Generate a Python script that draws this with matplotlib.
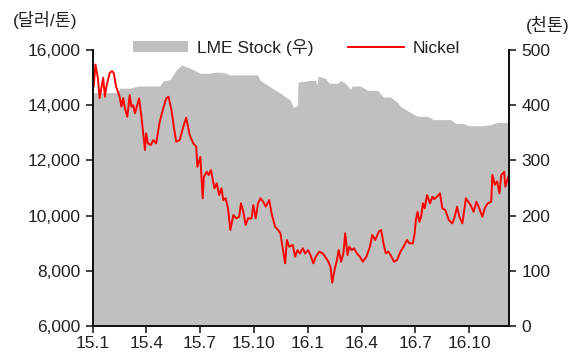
import matplotlib
matplotlib.use("Agg")
import matplotlib.pyplot as plt
import pandas as pd
from matplotlib.patches import Patch
from matplotlib.lines import Line2D

plt.rcParams['font.family'] = ['Liberation Sans', 'Noto Sans CJK KR', 'DejaVu Sans']

nickel_dates = [
    "2015-01-02", "2015-01-05", "2015-01-09", "2015-01-12", "2015-01-18", "2015-01-21", "2015-01-23",
    "2015-01-29", "2015-02-02", "2015-02-05", "2015-02-09", "2015-02-15", "2015-02-18", "2015-02-21",
    "2015-02-24", "2015-02-28", "2015-03-04", "2015-03-07", "2015-03-10", "2015-03-13", "2015-03-20",
    "2015-03-24", "2015-03-27", "2015-03-30", "2015-04-01", "2015-04-04", "2015-04-09", "2015-04-13",
    "2015-04-18", "2015-04-24", "2015-04-30", "2015-05-05", "2015-05-09", "2015-05-14", "2015-05-18",
    "2015-05-22", "2015-05-28", "2015-06-03", "2015-06-08", "2015-06-14", "2015-06-20", "2015-06-25",
    "2015-06-27", "2015-07-02", "2015-07-06", "2015-07-08", "2015-07-13", "2015-07-16", "2015-07-20",
    "2015-07-26", "2015-07-30", "2015-08-03", "2015-08-07", "2015-08-10", "2015-08-14", "2015-08-18",
    "2015-08-22", "2015-08-27", "2015-09-01", "2015-09-06", "2015-09-09", "2015-09-13", "2015-09-17",
    "2015-09-21", "2015-09-27", "2015-09-30", "2015-10-04", "2015-10-08", "2015-10-12", "2015-10-17",
    "2015-10-21", "2015-10-27", "2015-10-31", "2015-11-06", "2015-11-11", "2015-11-15", "2015-11-19",
    "2015-11-23", "2015-11-26", "2015-11-30", "2015-12-06", "2015-12-10", "2015-12-14", "2015-12-18",
    "2015-12-23", "2015-12-27", "2016-01-01", "2016-01-05", "2016-01-10", "2016-01-14", "2016-01-20",
    "2016-01-26", "2016-01-30", "2016-02-03", "2016-02-08", "2016-02-11", "2016-02-15", "2016-02-19",
    "2016-02-22", "2016-02-26", "2016-03-01", "2016-03-04", "2016-03-08", "2016-03-11", "2016-03-15",
    "2016-03-19", "2016-03-24", "2016-03-29", "2016-04-03", "2016-04-09", "2016-04-15", "2016-04-19",
    "2016-04-24", "2016-04-30", "2016-05-04", "2016-05-08", "2016-05-12", "2016-05-16", "2016-05-20",
    "2016-05-26", "2016-05-31", "2016-06-06", "2016-06-11", "2016-06-17", "2016-06-21", "2016-06-27",
    "2016-06-30", "2016-07-02", "2016-07-05", "2016-07-08", "2016-07-11", "2016-07-14", "2016-07-17",
    "2016-07-21", "2016-07-26", "2016-07-30", "2016-08-02", "2016-08-07", "2016-08-12", "2016-08-16",
    "2016-08-21", "2016-08-27", "2016-09-02", "2016-09-06", "2016-09-10", "2016-09-14", "2016-09-19",
    "2016-09-25", "2016-09-29", "2016-10-03", "2016-10-08", "2016-10-13", "2016-10-17", "2016-10-23",
    "2016-10-27", "2016-11-01", "2016-11-07", "2016-11-09", "2016-11-13", "2016-11-17", "2016-11-21",
    "2016-11-24", "2016-11-29", "2016-12-01", "2016-12-06",
]
nickel_price = [
    14700, 15480, 14990, 14260, 15000, 14310, 14620,
    15170, 15240, 15170, 14670, 14310, 13950, 14260,
    13890, 13585, 14370, 13950, 14000, 13710, 14250,
    13590, 12980, 12380, 12980, 12620, 12560, 12740,
    12620, 13400, 13890, 14250, 14310, 13830, 13220,
    12680, 12740, 13220, 13550, 12920, 12620, 12500,
    11770, 12130, 10630, 11410, 11590, 11470, 11650,
    10990, 11170, 10750, 10990, 10565, 10630, 10265,
    9480, 10020, 9900, 9960, 10446, 10140, 9660,
    9900, 9900, 10384, 9900, 10446, 10627, 10500,
    10325, 10565, 10084, 9600, 9479, 9360, 8816,
    8272, 9116, 8875, 8935, 8512, 8750, 8630,
    8816, 8630, 8750, 8570, 8272, 8510, 8693,
    8630, 8510, 8390, 8150, 7570, 8030, 8390,
    8753, 8330, 8630, 9360, 8573, 8875, 8750,
    8816, 8630, 8510, 8330, 8510, 8875, 9300,
    9116, 9418, 9480, 9000, 8633, 8700, 8573,
    8330, 8390, 8700, 8870, 9116, 8996, 8996,
    9360, 9840, 10140, 9780, 9960, 10446, 10265,
    10746, 10446, 10686, 10600, 10686, 10808, 10265,
    10205, 9840, 9720, 9960, 10325, 9960, 9720,
    10627, 10505, 10384, 10140, 10505, 10300, 9960,
    10265, 10446, 10505, 11480, 11120, 11240, 10808,
    11470, 11590, 11046, 11410,
]

stock_dates = [
    "2015-01-01", "2015-02-12", "2015-02-15", "2015-03-05", "2015-03-18", "2015-04-24", "2015-04-30",
    "2015-05-12", "2015-05-22", "2015-05-31", "2015-06-08", "2015-06-15", "2015-07-02", "2015-07-19",
    "2015-07-27", "2015-08-08", "2015-08-22", "2015-10-07", "2015-10-12", "2015-10-29", "2015-11-15",
    "2015-12-02", "2015-12-07", "2015-12-14", "2015-12-15", "2016-01-04", "2016-01-14", "2016-01-16",
    "2016-01-18", "2016-01-30", "2016-02-06", "2016-02-21", "2016-02-25", "2016-03-04", "2016-03-13",
    "2016-03-16", "2016-03-30", "2016-04-11", "2016-04-28", "2016-05-08", "2016-05-20", "2016-06-01",
    "2016-06-06", "2016-06-23", "2016-07-05", "2016-07-22", "2016-08-01", "2016-08-30", "2016-09-08",
    "2016-09-21", "2016-09-30", "2016-10-23", "2016-11-06", "2016-11-18", "2016-12-07",
]
stock_kt = [
    423, 423, 431, 431, 435, 435, 444,
    447, 464, 473, 470, 467, 458, 458,
    460, 460, 455, 455, 445, 433, 422,
    409, 396, 400, 442, 445, 445, 436,
    453, 449, 440, 440, 445, 440, 429,
    435, 435, 427, 427, 415, 415, 405,
    398, 387, 380, 380, 374, 374, 367,
    367, 363, 363, 365, 369, 369,
]

xtick_dates = ["2015-01-01", "2015-04-01", "2015-07-01", "2015-10-01",
               "2016-01-01", "2016-04-01", "2016-07-01", "2016-10-01"]
xtick_labels = ["15.1", "15.4", "15.7", "15.10", "16.1", "16.4", "16.7", "16.10"]
left_ticks = [6000, 8000, 10000, 12000, 14000, 16000]
right_ticks = [0, 100, 200, 300, 400, 500]

nd = pd.to_datetime(nickel_dates)
sd = pd.to_datetime(stock_dates)
xt = pd.to_datetime(xtick_dates)

fig = plt.figure(figsize=(5.75, 3.58), dpi=100)
ax = fig.add_axes([0.162, 0.0894, 0.723, 0.7706])
ax2 = ax.twinx()

ax2.fill_between(sd, 0, stock_kt, color="#C0C0C0", linewidth=0)
ax.plot(nd, nickel_price, color="#FF0000", linewidth=1.4)

ax.set_zorder(ax2.get_zorder() + 1)
ax.patch.set_visible(False)

xmin = pd.Timestamp("2015-01-01")
xmax = pd.Timestamp("2016-12-07")
ax.set_xlim(xmin, xmax)
ax.set_ylim(6000, 16000)
ax2.set_ylim(0, 500)

ax.set_xticks(xt)
ax.set_xticklabels(xtick_labels)
ax.set_yticks(left_ticks)
ax.set_yticklabels([f"{v:,}" for v in left_ticks])
ax2.set_yticks(right_ticks)
ax2.set_yticklabels([str(v) for v in right_ticks])

fs = 12.5
for a in (ax, ax2):
    a.tick_params(labelsize=fs, colors="#222222", length=5, width=1.2, direction="out")
    a.spines["top"].set_visible(False)
    for s in ("left", "right", "bottom"):
        a.spines[s].set_linewidth(1.3)
        a.spines[s].set_color("#111111")
ax.tick_params(axis="x", pad=2)
ax.tick_params(axis="y", pad=4)
ax2.tick_params(axis="y", pad=4)

fig.text(0.022, 0.945, "(달러/톤)", fontsize=fs, ha="left", va="center", color="#222222")
fig.text(0.99, 0.93, "(천톤)", fontsize=fs, ha="right", va="center", color="#222222")

handles = [Patch(facecolor="#C0C0C0", edgecolor="none"),
           Line2D([0], [0], color="#FF0000", linewidth=1.4)]
fig.legend(handles, ["LME Stock (우)", "Nickel"], loc="center",
           bbox_to_anchor=(0.515, 0.868), ncol=2, frameon=False,
           fontsize=fs, handlelength=3.2, handleheight=0.55,
           columnspacing=2.0, handletextpad=0.5, labelcolor="#222222")

fig.savefig("out.png", dpi=100)
